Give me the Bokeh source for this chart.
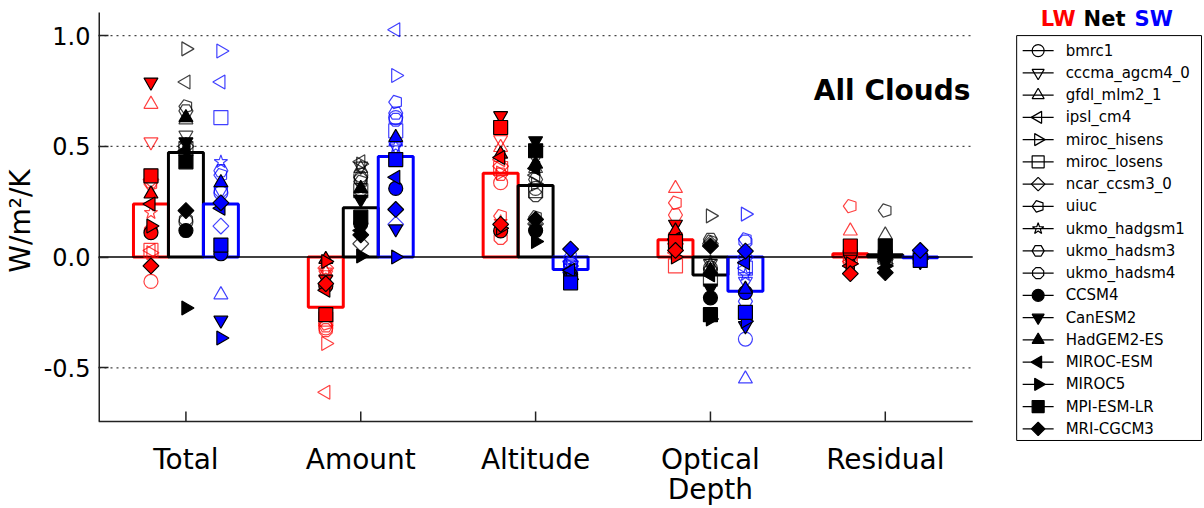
import numpy as np
from bokeh.plotting import figure
from bokeh.models import ColumnDataSource, FixedTicker, Label, PrintfTickFormatter
from bokeh.core.properties import value
from bokeh.embed import file_html
from bokeh.resources import INLINE

categories = ["Total", "Amount", "Altitude", "Optical\nDepth", "Residual"]
models = ["bmrc1", "cccma_agcm4_0", "gfdl_mlm2_1", "ipsl_cm4", "miroc_hisens", "miroc_losens",
          "ncar_ccsm3_0", "uiuc", "ukmo_hadgsm1", "ukmo_hadsm3", "ukmo_hadsm4",
          "CCSM4", "CanESM2", "HadGEM2-ES", "MIROC-ESM", "MIROC5", "MPI-ESM-LR", "MRI-CGCM3"]
markers = ["circle", "inverted_triangle", "triangle", "left", "right", "square", "diamond",
           "pentagon", "star", "hex", "octagon",
           "circle", "inverted_triangle", "triangle", "left", "right", "square", "diamond"]
filled = [False] * 11 + [True] * 7

# LW feedbacks per category (one value per model)
lw_total = [-0.11, 0.52, 0.69, 0.03, 0.02, 0.03, 0.35, 0.33, 0.20, 0.34, 0.12, 0.11, 0.79, 0.285, 0.24, 0.14, 0.367, -0.04]
lw_amount = [-0.32, -0.08, -0.07, -0.61, -0.39, -0.28, -0.05, -0.30, -0.06, -0.31, -0.33, -0.13, -0.10, -0.01, -0.15, -0.02, -0.26, -0.12]
lw_altitude = [0.336, 0.53, 0.495, 0.44, 0.38, 0.40, 0.41, 0.185, 0.16, 0.374, 0.087, 0.118, 0.638, 0.465, 0.45, 0.13, 0.585, 0.148]
lw_optical = [0.05, 0.09, 0.31, 0.02, 0.03, -0.04, 0.06, 0.245, 0.10, 0.19, 0.04, 0.06, 0.148, 0.118, 0.08, 0.0, 0.07, 0.03]
lw_residual = [0.02, 0.01, 0.118, -0.02, -0.03, 0.0, 0.01, 0.23, 0.02, 0.03, 0.0, 0.02, -0.01, 0.04, -0.04, -0.03, 0.05, -0.075]

# Net feedbacks
net_total = [0.16, 0.55, 0.62, 0.79, 0.94, 0.49, 0.50, 0.68, 0.51, 0.66, 0.17, 0.12, 0.52, 0.63, 0.48, -0.23, 0.43, 0.21]
net_amount = [0.37, 0.41, 0.40, 0.43, 0.42, 0.30, 0.06, 0.34, 0.28, 0.36, 0.35, 0.15, 0.26, 0.31, 0.12, 0.005, 0.18, 0.10]
net_altitude = [0.31, 0.45, 0.40, 0.37, 0.33, 0.30, 0.15, 0.18, 0.14, 0.35, 0.28, 0.12, 0.525, 0.42, 0.40, 0.07, 0.48, 0.17]
net_optical = [-0.05, -0.03, -0.04, -0.08, 0.186, -0.10, 0.06, 0.07, -0.02, 0.08, -0.06, -0.184, -0.14, -0.06, -0.08, -0.28, -0.26, 0.05]
net_residual = [0.01, 0.0, 0.10, -0.02, -0.03, 0.0, -0.01, 0.21, 0.01, 0.02, 0.0, 0.01, -0.02, 0.04, -0.05, -0.04, 0.05, -0.07]

# SW feedbacks
sw_total = [0.29, 0.30, -0.17, 0.79, 0.93, 0.63, 0.14, 0.37, 0.43, 0.39, 0.30, 0.015, -0.285, 0.336, 0.22, -0.365, 0.054, 0.245]
sw_amount = [0.63, 0.50, 0.52, 1.026, 0.82, 0.57, 0.148, 0.70, 0.50, 0.65, 0.62, 0.31, 0.127, 0.54, 0.36, 0.0, 0.44, 0.215]
sw_altitude = [-0.03, -0.05, -0.06, -0.07, -0.04, -0.05, -0.02, 0.0, -0.06, -0.04, -0.03, -0.08, -0.09, -0.07, -0.06, -0.10, -0.116, 0.036]
sw_optical = [-0.37, -0.11, -0.55, -0.05, 0.194, -0.05, 0.0, 0.08, -0.08, -0.20, 0.07, -0.16, -0.31, -0.145, -0.026, -0.29, -0.25, 0.027]
sw_residual = [0.0, -0.01, -0.01, 0.0, 0.01, 0.0, -0.01, 0.02, 0.0, 0.01, -0.01, 0.0, -0.02, 0.01, 0.0, -0.01, -0.015, 0.03]

# multi-model means (bars)
lw_mean = [0.24, -0.226, 0.379, 0.078, 0.015]
net_mean = [0.472, 0.223, 0.323, -0.081, 0.01]
sw_mean = [0.24, 0.454, -0.056, -0.154, -0.003]

components = [
    ("LW", "#ff0000", -0.2, [lw_total, lw_amount, lw_altitude, lw_optical, lw_residual], lw_mean),
    ("Net", "#000000", 0.0, [net_total, net_amount, net_altitude, net_optical, net_residual], net_mean),
    ("SW", "#0000ff", 0.2, [sw_total, sw_amount, sw_altitude, sw_optical, sw_residual], sw_mean),
]

FONT = "DejaVu Sans"
W, H = 1204, 508
LEFT = 97
PX_X = 175.0          # pixels per category unit
PX_Y = 221.0          # pixels per W/m2/K
ZERO_PX = 256.0       # screen row of y = 0
FRAME_BOTTOM = 440.0  # expected screen row of the frame bottom
AX_BOTTOM, AX_TOP = -0.742, 1.104   # visible axes box (data units)
XMIN, XMAX = 0.5, 5.5


def sx2x(sx):
    return XMIN + (sx - LEFT) / PX_X


def sy2y(sy):
    return (ZERO_PX - sy) / PX_Y


p = figure(width=W, height=H,
           x_range=(XMIN, sx2x(W)), y_range=(sy2y(FRAME_BOTTOM), sy2y(0)),
           output_backend="svg", toolbar_location=None,
           min_border_left=LEFT, min_border_right=0, min_border_top=0, min_border_bottom=10)
p.outline_line_color = None
p.background_fill_color = "white"
p.grid.visible = False

cat_x = np.arange(1, len(categories) + 1)
p.xaxis.ticker = FixedTicker(ticks=list(cat_x))
p.xaxis.major_label_overrides = {int(i): c for i, c in zip(cat_x, categories)}
p.xaxis.axis_line_color = None
p.xaxis.major_tick_line_color = None
p.xaxis.minor_tick_line_color = None
p.xaxis.major_label_text_font = FONT
p.xaxis.major_label_text_font_size = "28px"
p.xaxis.major_label_text_color = "black"
p.xaxis.major_label_text_line_height = 0.92
p.xaxis.major_label_standoff = -5

p.yaxis.ticker = FixedTicker(ticks=[-0.5, 0.0, 0.5, 1.0])
p.yaxis.formatter = PrintfTickFormatter(format="%.1f")
p.yaxis.axis_label = "W/m\u00b2/K"
p.yaxis.axis_line_color = None
p.yaxis.major_tick_in = 10
p.yaxis.major_tick_out = 0
p.yaxis.minor_tick_line_color = None
p.yaxis.major_tick_line_color = "#222222"
p.yaxis.major_tick_line_width = 1.5
p.yaxis.major_label_text_font = FONT
p.yaxis.major_label_text_font_size = "24px"
p.yaxis.major_label_text_color = "black"
p.yaxis.major_label_standoff = 8
p.yaxis.axis_label_text_font = FONT
p.yaxis.axis_label_text_font_size = "28px"
p.yaxis.axis_label_text_font_style = "normal"
p.yaxis.axis_label_text_color = "black"
p.yaxis.axis_label_standoff = 4

# axes box pieces (spines, ticks, grid)
p.segment(x0=[XMIN], y0=[AX_BOTTOM], x1=[XMIN], y1=[AX_TOP], line_color="#222222", line_width=3)
p.segment(x0=[XMIN], y0=[AX_BOTTOM], x1=[XMAX], y1=[AX_BOTTOM], line_color="#222222", line_width=1.5)
p.segment(x0=cat_x, y0=[AX_BOTTOM] * len(cat_x), x1=cat_x, y1=[AX_BOTTOM + 10 / PX_Y] * len(cat_x),
          line_color="#222222", line_width=1.5)
grid_y = [-0.5, 0.5, 1.0]
p.segment(x0=[XMIN] * 3, y0=grid_y, x1=[XMAX] * 3, y1=grid_y, line_color="#444444",
          line_dash="2 4", line_width=1.2)

angles = {"left": np.pi / 2, "right": -np.pi / 2, "diamond": np.pi / 4}


def draw_marker(src, mk, fill, color, size=14, legend=False):
    fc = color if fill else None
    lc = "black" if fill else color
    la = 1.0 if (fill or legend) else 0.75
    if mk in ("pentagon", "octagon"):
        if hasattr(p, "ngon"):
            n = 5 if mk == "pentagon" else 8
            ang = np.pi / 2 if mk == "pentagon" else np.pi / 8
            return p.ngon(x="x", y="y", source=src, radius=size * 0.5, radius_units="screen", n=n,
                          angle=ang, fill_color=fc, line_color=lc, line_alpha=la, line_width=1.2)
        mk = "hex" if mk == "pentagon" else "circle"
    ang = angles.get(mk, 0.0)
    m = mk
    sz = size
    if mk in ("left", "right"):
        m = "triangle"
    elif mk == "diamond":
        m = "square"          # matplotlib-style 'D': a square turned by 45 degrees
        sz = size * 0.8
    return p.scatter(x="x", y="y", source=src, marker=m, size=sz, angle=ang,
                     fill_color=fc, line_color=lc, line_alpha=la, line_width=1.2)


# bars (multi-model means)
for name, color, off, data, mean in components:
    p.vbar(x=cat_x + off, top=mean, bottom=0, width=0.2, fill_color=None,
           line_color=color, line_width=3)

# zero line
p.segment(x0=[XMIN], y0=[0], x1=[XMAX], y1=[0], line_color="black", line_width=1.5)

# individual model markers
for name, color, off, data, mean in components:
    for i, mdl in enumerate(models):
        src = ColumnDataSource(dict(x=cat_x + off, y=[d[i] for d in data]))
        draw_marker(src, markers[i], filled[i], color)

p.add_layout(Label(x=sx2x(813), y=sy2y(90), text="All Clouds", text_font=FONT, text_font_size="28px",
                   text_color="black", text_font_style="bold", text_baseline="middle", text_align="left"))

# legend box (drawn in the frame, right of the axes)
LEG_L, LEG_R, LEG_T, LEG_B = 1016, 1201, 35, 440
p.quad(left=[sx2x(LEG_L)], right=[sx2x(LEG_R)], top=[sy2y(LEG_T)], bottom=[sy2y(LEG_B - 1)],
       fill_color="white", line_color="black", line_width=1)
row_y = [sy2y(50 + 22.2 * k) for k in range(len(models))]
p.segment(x0=[sx2x(1022)] * len(models), y0=row_y, x1=[sx2x(1053)] * len(models), y1=row_y,
          line_color="black", line_width=1.3)
for i, mdl in enumerate(models):
    src = ColumnDataSource(dict(x=[sx2x(1037.5)], y=[row_y[i]]))
    draw_marker(src, markers[i], filled[i], "black", size=12, legend=True)
p.text(x=[sx2x(1065)] * len(models), y=row_y, text=models, text_font=value(FONT),
       text_font_size="15px", text_baseline="middle", text_align="left", text_color="black")

# coloured legend title
for txt, col, sx in (("LW", "#ff0000", 1040), ("Net", "#000000", 1083), ("SW", "#0000ff", 1134)):
    p.add_layout(Label(x=sx2x(sx), y=sy2y(18), text=txt, text_color=col,
                       text_font=FONT, text_font_size="21px", text_font_style="bold",
                       text_baseline="middle", text_align="left"))

open("out.html", "w").write(file_html(p, INLINE))
